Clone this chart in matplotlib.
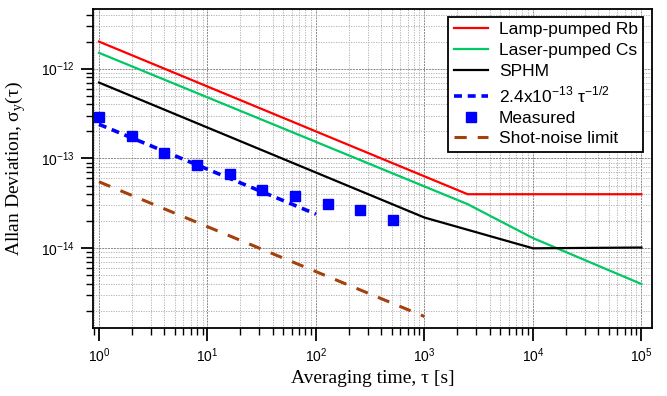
import numpy as np
import matplotlib
matplotlib.use("Agg")
import matplotlib.pyplot as plt
from matplotlib.ticker import LogLocator, NullFormatter

plt.rcParams['font.family'] = ['Liberation Sans', 'DejaVu Sans']

# Lamp-pumped Rb
rb_t = [1, 2500, 1e5]
rb_y = [2.0e-12, 4.0e-14, 4.0e-14]
# Laser-pumped Cs
cs_t = [1, 2500, 1e4, 1e5]
cs_y = [1.5e-12, 3.1e-14, 1.3e-14, 4.0e-15]
# SPHM
sp_t = [1, 1000, 1e4, 1e5]
sp_y = [7.0e-13, 2.2e-14, 1.0e-14, 1.02e-14]
# fit 2.4e-13 tau^-1/2
fit_t = [1, 100]
fit_y = [2.4e-13, 2.4e-14]
# measured
meas_t = [1, 2, 4, 8, 16, 32, 64, 128, 256, 512]
meas_y = [2.9e-13, 1.8e-13, 1.15e-13, 8.5e-14, 6.8e-14, 4.4e-14, 3.8e-14, 3.1e-14, 2.65e-14, 2.05e-14]
# shot-noise limit
sn_t = [1, 1000]
sn_y = [5.5e-14, 1.74e-15]

xticks = [1, 10, 100, 1e3, 1e4, 1e5]
yticks = [1e-14, 1e-13, 1e-12]

fig = plt.figure(figsize=(6.67, 3.96), dpi=100)
ax = fig.add_axes([0.1394, 0.172, 0.838, 0.805])

ax.plot(rb_t, rb_y, color='#ff0000', lw=1.6, label='Lamp-pumped Rb')
ax.plot(cs_t, cs_y, color='#00c864', lw=1.6, label='Laser-pumped Cs')
ax.plot(sp_t, sp_y, color='black', lw=1.6, label='SPHM')
ax.plot(fit_t, fit_y, color='#0000ff', lw=2.6, ls=(0, (2.2, 1.6)),
        label=r'2.4x10$^{\mathdefault{-13}}$ $\mathdefault{\tau}^{\mathdefault{-1/2}}$')
ax.plot(meas_t, meas_y, 's', color='#0000ff', ms=7, ls='none', label='Measured')
ax.plot(sn_t, sn_y, color='#a4400c', lw=2.2, ls=(0, (4, 3.6)), label='Shot-noise limit')

ax.set_xscale('log')
ax.set_yscale('log')
ax.set_xlim(0.88, 1.25e5)
ax.set_ylim(1.3e-15, 4.6e-12)

ax.set_xticks(xticks)
ax.set_yticks(yticks)
ax.xaxis.set_minor_locator(LogLocator(base=10, subs=np.arange(2, 10), numticks=20))
ax.yaxis.set_minor_locator(LogLocator(base=10, subs=np.arange(2, 10), numticks=20))
ax.xaxis.set_minor_formatter(NullFormatter())
ax.yaxis.set_minor_formatter(NullFormatter())

ax.tick_params(which='major', direction='out', length=9, width=1.3, labelsize=10)
ax.tick_params(which='minor', direction='out', length=5, width=1.0)
ax.tick_params(axis='x', pad=4)
ax.tick_params(axis='y', pad=4)
for s in ax.spines.values():
    s.set_linewidth(1.3)

ax.grid(which='major', color='#888888', ls=(0, (2, 1)), lw=0.7)
ax.grid(which='minor', color='#aaaaaa', ls=(0, (1.5, 1.5)), lw=0.6)
ax.set_axisbelow(True)

ax.set_xlabel('Averaging time, τ [s]', family='Liberation Serif', fontsize=14, labelpad=4)
ax.set_ylabel(r'Allan Deviation, σ$_{\mathdefault{y}}$(τ)', family='Liberation Serif',
              fontsize=14)
ax.yaxis.set_label_coords(-0.117, 0.5)

leg = ax.legend(loc='upper right', bbox_to_anchor=(0.984, 0.975), fontsize=12.5,
                frameon=True, fancybox=False, edgecolor='black', framealpha=1,
                handlelength=2.0, handletextpad=0.6, borderpad=0.3, labelspacing=0.32,
                borderaxespad=0)
leg.get_frame().set_linewidth(1.3)

fig.savefig('out.png', dpi=100)
